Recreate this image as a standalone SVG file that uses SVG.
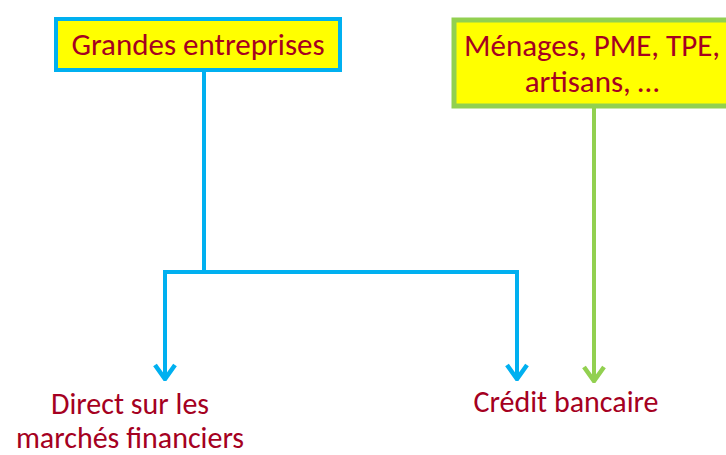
<svg xmlns="http://www.w3.org/2000/svg" width="726" height="455" viewBox="0 0 726 455">
<style>
.t{font-family:Carlito,"Open Sans","Liberation Sans",sans-serif;fill:#A50021;text-anchor:middle}
.big{font-size:31px}
.lbl{font-size:30px}
.c{fill:none;stroke-width:4}
.blue{stroke:#00B0F0}
.green{stroke:#92D050}
</style>
<defs>
<marker id="ab" viewBox="0 0 20 24" refX="18" refY="12" markerWidth="20" markerHeight="24" markerUnits="userSpaceOnUse" orient="auto">
<path d="M4,2 L18,12 L4,22" fill="none" stroke="#00B0F0" stroke-width="4.5"/>
</marker>
<marker id="ag" viewBox="0 0 20 24" refX="18" refY="12" markerWidth="20" markerHeight="24" markerUnits="userSpaceOnUse" orient="auto">
<path d="M4,2 L18,12 L4,22" fill="none" stroke="#92D050" stroke-width="4.5"/>
</marker>
</defs>
<g id="connectors">
<line class="c blue" x1="204" y1="72" x2="204" y2="272"/>
<path class="c blue" d="M165,272 H517"/>
<line class="c blue" x1="165" y1="270" x2="165" y2="379" marker-end="url(#ab)"/>
<line class="c blue" x1="517" y1="270" x2="517" y2="379" marker-end="url(#ab)"/>
<line class="c green" x1="594" y1="107" x2="594" y2="381" marker-end="url(#ag)"/>
</g>
<g id="grandes">
<rect x="56" y="19" width="284" height="51" fill="#FFFF00" stroke="#00B0F0" stroke-width="4"/>
<text class="t big" x="198" y="55">Grandes entreprises</text>
</g>
<g id="menages">
<rect x="454" y="20" width="276" height="86" fill="#FFFF00" stroke="#92D050" stroke-width="5"/>
<text class="t big" x="592" y="56">Ménages, PME, TPE,</text>
<text class="t big" x="592" y="92">artisans, …</text>
</g>
<g id="direct">
<text class="t lbl" x="130" y="414">Direct sur les</text>
<text class="t lbl" x="130" y="448">marchés financiers</text>
</g>
<g id="credit">
<text class="t lbl" x="566" y="412">Crédit bancaire</text>
</g>
</svg>
